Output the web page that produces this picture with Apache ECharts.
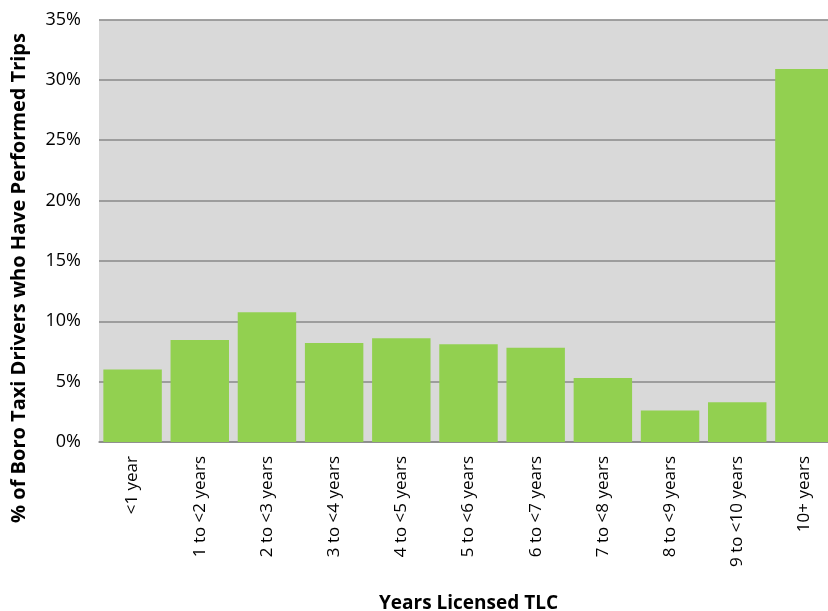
<!DOCTYPE html>
<html>
<head>
<meta charset="utf-8">
<script src="https://cdn.jsdelivr.net/npm/echarts@6/dist/echarts.min.js"></script>
<style>
  html, body { margin: 0; padding: 0; background: #fff; }
  #chart { width: 828px; height: 611px; }
</style>
</head>
<body>
<div id="chart"></div>
<script>
  const categories = ['<1 year', '1 to <2 years', '2 to <3 years', '3 to <4 years', '4 to <5 years',
    '5 to <6 years', '6 to <7 years', '7 to <8 years', '8 to <9 years', '9 to <10 years', '10+ years']
  const shareOfDrivers = [6.0, 8.45, 10.75, 8.2, 8.6, 8.1, 7.8, 5.3, 2.6, 3.3, 30.9]
  const yTicks = { min: 0, max: 35, interval: 5 }

  const chart = echarts.init(document.getElementById('chart'))

  const option = {
    animation: false,
    grid: {
      left: 99,
      top: 19.5,
      width: 739,
      bottom: 169,
      outerBoundsMode: 'none',
      show: true,
      backgroundColor: '#d9d9d9',
      borderWidth: 0
    },
    xAxis: {
      type: 'category',
      data: categories,
      name: 'Years Licensed TLC',
      nameLocation: 'middle',
      nameGap: 152,
      nameTextStyle: {
        fontFamily: 'Open Sans',
        fontWeight: 'bold',
        fontSize: 19,
        color: '#000'
      },
      axisTick: { show: false },
      axisLine: { show: true, lineStyle: { color: '#898989', width: 1.5 } },
      axisLabel: {
        rotate: 90,
        margin: 14,
        fontFamily: 'Open Sans',
        fontSize: 17,
        color: '#000'
      }
    },
    yAxis: {
      type: 'value',
      min: yTicks.min,
      max: yTicks.max,
      interval: yTicks.interval,
      axisLine: { show: false },
      axisTick: { show: false },
      splitLine: { show: true, lineStyle: { color: '#898989', width: 1.5 } },
      axisLabel: {
        formatter: '{value}%',
        margin: 18,
        fontFamily: 'Open Sans',
        fontSize: 18,
        color: '#000'
      }
    },
    graphic: [
      {
        type: 'text',
        x: 19,
        y: 278,
        rotation: Math.PI / 2,
        style: {
          text: '% of Boro Taxi Drivers who Have Performed Trips',
          fontFamily: 'Open Sans',
          fontWeight: 'bold',
          fontSize: 20,
          fill: '#000',
          align: 'center',
          verticalAlign: 'middle'
        }
      }
    ],
    series: [
      {
        type: 'bar',
        data: shareOfDrivers,
        barCategoryGap: '13%',
        itemStyle: { color: '#92d050' }
      }
    ]
  }

  chart.setOption(option)
</script>
</body>
</html>
